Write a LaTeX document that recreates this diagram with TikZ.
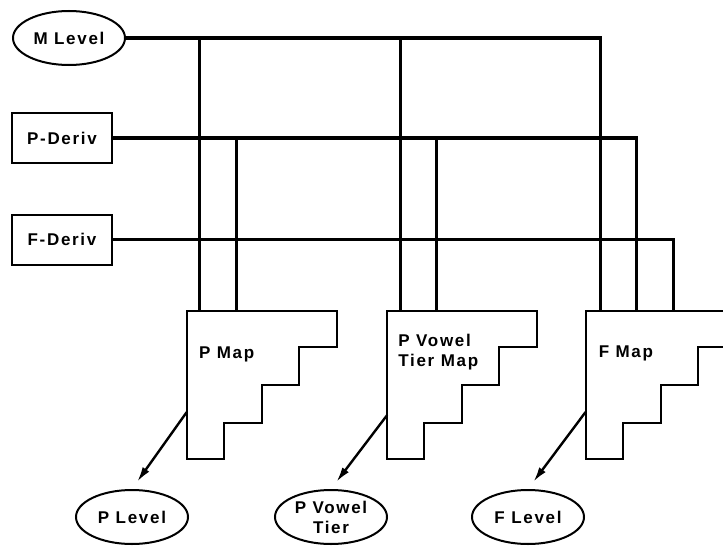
\documentclass[tikz,border=0pt]{standalone}
\usepackage{fontspec}
\setmainfont{Liberation Sans}[LetterSpace=10]
\usetikzlibrary{positioning,arrows.meta,shapes.geometric}

% staircase outline of a map block, drawn from its north west corner
\newcommand{\stairmap}[1]{%
  \draw[line width=2pt, shift={(#1.north west)}]
    (0,0) -- (150,0) -- (150,36) -- (112,36) -- (112,74) -- (75,74)
    -- (75,112) -- (37,112) -- (37,148) -- (0,148) -- cycle;}

\begin{document}
\begin{tikzpicture}[x=1pt, y=-1pt, >={Latex[length=15pt,width=8pt]},
  level/.style={draw, ellipse, line width=2pt, minimum width=112pt, minimum height=54pt, inner sep=0pt, align=center},
  deriv/.style={draw, rectangle, line width=1.8pt, minimum width=100pt, minimum height=50pt, inner sep=0pt},
  mapbox/.style={rectangle, minimum width=150pt, minimum height=148pt, inner sep=0pt},
  maptext/.style={anchor=west, align=left, inner sep=0pt},
  wire/.style={line width=3.2pt, line join=miter},
  flow/.style={->, line width=2.4pt, shorten >=9pt},
  font=\bfseries\fontsize{17}{20}\selectfont]
  \useasboundingbox (0,0) rectangle (723,546);
  \clip (0,0) rectangle (723,546);

  % sources
  \node[level] (mlevel) at (69,38) {M Level};
  \node[deriv] (pderiv) at (62,138) {P-Deriv};
  \node[deriv, below=50pt of pderiv] (fderiv) {F-Deriv};

  % maps
  \node[mapbox] (pmap) at (262,385) {};
  \node[mapbox, right=50pt of pmap] (vmap) {};
  \node[mapbox, right=48pt of vmap] (fmap) {};

  \coordinate (pin1) at ([xshift=13pt]pmap.north west);
  \coordinate (pin2) at ([xshift=50pt]pmap.north west);
  \coordinate (vin1) at ([xshift=13pt]vmap.north west);
  \coordinate (vin2) at ([xshift=49pt]vmap.north west);
  \coordinate (fin1) at ([xshift=15pt]fmap.north west);
  \coordinate (fin2) at ([xshift=51pt]fmap.north west);
  \coordinate (fin3) at ([xshift=88pt]fmap.north west);

  \draw[wire] (mlevel.east) -| (fin1);
  \draw[wire] (pin1 |- mlevel.east) -- (pin1);
  \draw[wire] (vin1 |- mlevel.east) -- (vin1);
  \draw[wire] (pderiv.east) -| (fin2);
  \draw[wire] (pin2 |- pderiv.east) -- (pin2);
  \draw[wire] (vin2 |- pderiv.east) -- (vin2);
  \draw[wire] (fderiv.east) -| (fin3);

  \stairmap{pmap}
  \stairmap{vmap}
  \stairmap{fmap}

  \node[maptext] (pmaplbl) at ([xshift=12pt,yshift=-44pt]pmap.north west) {P Map};
  \node[maptext] (vmaplbl) at ([xshift=11pt,yshift=-41pt]vmap.north west) {P Vowel\\Tier Map};
  \node[maptext] (fmaplbl) at ([xshift=13pt,yshift=-43pt]fmap.north west) {F Map};

  % outputs
  \node[level] (plevel) at (132,517) {P Level};
  \node[level] (vtier) at (331,517) {P Vowel\\Tier};
  \node[level] (flevel) at (528,517) {F Level};

  \draw[flow] ([yshift=-27pt]pmap.west) -- (plevel.north);
  \draw[flow] ([yshift=-30pt]vmap.west) -- (vtier.north);
  \draw[flow] ([yshift=-27pt]fmap.west) -- (flevel.north);
\end{tikzpicture}
\end{document}
